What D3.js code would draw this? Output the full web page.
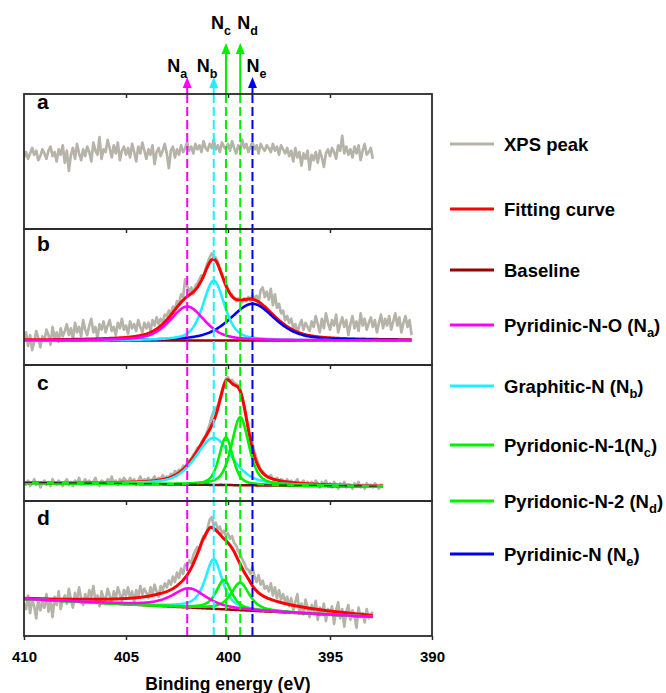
<!DOCTYPE html>
<html>
<head>
<meta charset="utf-8">
<script src="https://cdn.jsdelivr.net/npm/d3@7"></script>
<style>
  html, body { margin: 0; padding: 0; background: #fff; }
  svg { display: block; font-family: "Liberation Sans", Arial, Helvetica, sans-serif; font-weight: bold; }
</style>
</head>
<body>
<svg id="chart" width="666" height="693"></svg>
<script>
// ---------------- data ----------------
// Measured N 1s spectra, sampled every 0.1 eV starting at 410 eV (arbitrary intensity units per panel)
const xpsStart = 410;
const xpsStep = 0.1;

const xpsA = [
  53,57,52,56,60,55,58,51,54,59,
  56,52,58,61,54,57,50,59,55,62,
  49,58,43,55,60,52,63,56,51,59,
  54,61,57,50,64,58,55,68,52,59,
  57,66,60,53,62,56,64,51,58,61,
  55,60,53,63,57,50,61,56,64,58,
  52,59,55,62,48,57,60,54,58,63,
  56,45,58,61,53,59,55,62,57,60,
  64,58,61,56,63,59,62,57,65,60,
  58,63,60,66,59,62,57,64,61,59,
  63,58,65,60,56,62,59,66,60,63,
  57,61,64,59,62,56,63,60,58,62,
  60,57,63,58,61,55,62,59,56,60,
  54,58,50,60,53,57,47,56,52,58,
  44,55,51,57,49,58,53,46,56,59,
  54,60,57,52,62,58,69,56,61,55,
  59,53,61,56,62,51,58,63,55,57,
  60,52
];

const xpsB = [
  19,24,14,22,11,17,25,20,13,21,
  18,26,22,15,28,20,24,17,27,21,
  25,30,22,27,19,31,24,28,21,33,
  26,22,29,34,24,28,20,30,26,32,
  24,29,33,25,28,22,31,27,34,26,
  29,23,32,27,30,25,33,28,24,31,
  27,31,25,33,29,35,30,34,31,37,
  36,40,37,43,41,47,45,52,50,63,
  58,54,57,52,58,60,63,66,64,71,
  75,79,82,80,79,76,70,67,63,60,
  56,53,52,49,47,49,48,46,49,47,
  50,47,52,48,51,46,55,57,50,54,
  48,56,44,52,42,45,38,40,33,36,
  31,34,27,30,24,29,33,26,31,28,
  25,32,28,36,30,24,34,27,38,31,
  26,33,29,37,24,30,35,28,33,22,
  30,36,27,32,25,38,29,34,26,31,
  35,28,33,24,31,37,27,34,29,36,
  26,32,38,29,35,24,31,36,28,33,
  22
];

const xpsC = [
  14,12,15,11,13,16,12,14,10,13,
  15,12,14,11,16,13,12,15,13,11,
  14,16,12,14,11,15,13,17,12,14,
  16,13,15,12,14,17,13,11,15,14,
  13,16,14,18,13,15,12,16,14,17,
  15,13,17,14,16,12,15,18,14,16,
  15,17,14,16,18,15,17,16,19,16,
  18,17,20,19,22,21,23,22,26,25,
  28,30,31,34,36,39,40,43,46,48,
  52,56,62,66,68,70,75,81,86,90,
  91,88,89,87,86,85,82,76,70,62,
  53,47,43,36,31,27,23,22,19,18,
  17,19,16,15,17,14,16,15,13,16,
  13,15,12,14,16,11,13,15,12,14,
  12,14,11,15,13,10,14,12,15,11,
  13,10,14,12,9,13,11,14,10,12,
  12,9,13,11,14,10,12,9,13,11,
  12,10,13,11,9,12,11
];

const xpsD = [
  24,20,30,17,27,22,13,28,19,25,
  21,31,18,26,14,29,23,33,20,27,
  30,24,35,27,21,32,26,36,28,23,
  31,25,34,29,37,26,30,22,33,28,
  27,35,30,24,33,28,36,31,26,34,
  30,36,28,33,25,34,29,37,31,35,
  32,28,36,31,38,33,29,37,34,39,
  36,41,38,44,40,47,43,50,46,53,
  52,56,54,60,63,66,64,70,74,73,
  80,86,88,82,84,79,81,76,78,74,
  76,72,74,69,67,63,60,57,54,50,
  49,46,51,44,40,45,38,41,35,37,
  33,39,30,36,28,34,27,31,25,29,
  22,28,19,25,31,18,24,16,27,21,
  14,23,18,26,12,21,17,24,11,20,
  16,22,9,19,25,13,20,7,18,23,
  12,19,15,6,21,14,17,10,20,13,
  16,18
];

// Linear baselines: [energy, intensity] end points
const baselineB = [[410, 18], [391, 18]];
const baselineC = [[410, 13.3], [392.4, 10.5]];
const baselineD = [[410, 27.4], [392.9, 14.1]];

// Fitted components: centre (eV), height above baseline, FWHM (eV)
const peaksB = [
  { key: "Ne", center: 398.8, height: 27,   fwhm: 2.6 },
  { key: "Nb", center: 400.7, height: 44,   fwhm: 1.25 },
  { key: "Na", center: 402.0, height: 25,   fwhm: 2.0 }
];
const peaksC = [
  { key: "Nb", center: 400.7, height: 34.6, fwhm: 2.1 },
  { key: "Nc", center: 400.1, height: 35,   fwhm: 0.8 },
  { key: "Nd", center: 399.4, height: 50,   fwhm: 1.0 }
];
const peaksD = [
  { key: "Nb", center: 400.7, height: 36.7, fwhm: 1.0 },
  { key: "Nc", center: 400.2, height: 21.7, fwhm: 0.9 },
  { key: "Nd", center: 399.4, height: 20.3, fwhm: 1.06 },
  { key: "Na", center: 401.9, height: 14.2, fwhm: 2.0 }
];

// Fitting envelope of spectrum d
const fitEnergyD = [410,409,408,407,406,405,404.5,404,403.5,403,402.5,402,401.75,401.5,401.25,401,400.85,400.7,400.5,400.25,400,399.75,399.5,399.25,399,398.75,398.5,398,397.5,397,396,395,394,392.9];
const fitValueD  = [28.0,27.6,27.3,27.3,27.3,27.7,28.3,29.2,30.8,32.8,37.1,45.2,52.0,60.8,70.6,77.9,80.6,79.7,77.0,72.8,69.1,63.9,56.2,48.5,42.3,36.0,32.0,27.6,25.2,23.3,20.5,18.5,16.8,15.1];

// Nitrogen species positions (eV)
const species = [
  { key: "Na", energy: 402.0 },
  { key: "Nb", energy: 400.7 },
  { key: "Nc", energy: 400.1 },
  { key: "Nd", energy: 399.4 },
  { key: "Ne", energy: 398.8 }
];

const xTicks = [410, 405, 400, 395, 390];
const innerTicks = [405, 400, 395];

const legendItems = [
  { text: "XPS peak", color: "xps" },
  { text: "Fitting curve", color: "fit" },
  { text: "Baseline", color: "base" },
  { text: "Pyridinic-N-O (N", sub: "a", tail: ")", color: "Na" },
  { text: "Graphitic-N (N", sub: "b", tail: ")", color: "Nb" },
  { text: "Pyridonic-N-1(N", sub: "c", tail: ")", color: "Nc" },
  { text: "Pyridonic-N-2 (N", sub: "d", tail: ")", color: "Nd" },
  { text: "Pyridinic-N (N", sub: "e", tail: ")", color: "Ne" }
];

// ---------------- styling / layout ----------------
const colors = {
  xps: "#b6b4a8", fit: "#ff0000", base: "#990000",
  Na: "#ff00ff", Nb: "#22eeff", Nc: "#00f000", Nd: "#00f000", Ne: "#0000ee"
};
const drawOrder = ["Ne", "Nb", "Nc", "Nd", "Na"];
const panelTop = [94, 229, 365, 501];
const panelBottom = [229, 365, 501, 636];
const letterBaseline = [109, 251, 390, 525];
const legendY = [144, 209, 270, 325, 386, 445, 501, 554];
const markerLayout = {
  Na: { tip: 77, labelDx: -20, labelY: 72 },
  Nb: { tip: 77, labelDx: -17, labelY: 72 },
  Nc: { tip: 43, labelDx: -15, labelY: 28.5 },
  Nd: { tip: 43, labelDx: -3,  labelY: 28.5 },
  Ne: { tip: 77, labelDx: -6,  labelY: 72 }
};

const panels = [
  { letter: "a", xps: xpsA },
  { letter: "b", xps: xpsB, baseline: baselineB, peaks: peaksB, eta: 0.5 },
  { letter: "c", xps: xpsC, baseline: baselineC, peaks: peaksC, eta: 0.5, dashedBase: true },
  { letter: "d", xps: xpsD, baseline: baselineD, peaks: peaksD, eta: 0.7,
    fit: fitEnergyD.map((e, i) => [e, fitValueD[i]]) }
];

// ---------------- drawing ----------------
const svg = d3.select("#chart");
const x = d3.scaleLinear().domain([410, 390]).range([24, 432]);
const plotLeft = x(410), plotRight = x(390);

// pseudo-Voigt line shape
function peakValue(e, p, eta) {
  const r = (e - p.center) / p.fwhm;
  const q = 4 * r * r;
  return p.height * (eta / (1 + q) + (1 - eta) * Math.exp(-Math.LN2 * q));
}
function baselineValue(e, b) {
  const [[e0, v0], [e1, v1]] = b;
  return v0 + (v1 - v0) * (e - e0) / (e1 - e0);
}

const defs = svg.append("defs");

panels.forEach((p, k) => {
  const top = panelTop[k], bottom = panelBottom[k];
  const y = d3.scaleLinear().domain([0, 100]).range([bottom, top]);
  const line = d3.line().x(d => x(d[0])).y(d => y(d[1]));

  defs.append("clipPath").attr("id", "clip" + k)
    .append("rect").attr("x", plotLeft).attr("y", top)
    .attr("width", plotRight - plotLeft).attr("height", bottom - top);

  const g = svg.append("g").attr("clip-path", `url(#clip${k})`);

  const xpsPts = p.xps.map((v, i) => [xpsStart - i * xpsStep, v]);
  const eEnd = xpsStart - (p.xps.length - 1) * xpsStep;

  g.append("path").datum(xpsPts).attr("d", line)
    .attr("fill", "none").attr("stroke", colors.xps)
    .attr("stroke-width", 2.7).attr("stroke-linejoin", "round");

  if (!p.baseline) return;

  const n = Math.round((xpsStart - eEnd) / 0.05);
  const grid = d3.range(n + 1).map(i => xpsStart - i * 0.05);

  g.append("path").datum(grid.map(e => [e, baselineValue(e, p.baseline)]))
    .attr("d", line).attr("fill", "none").attr("stroke", colors.base).attr("stroke-width", 2.5);

  const fitPts = p.fit
    ? p.fit
    : grid.map(e => [e, baselineValue(e, p.baseline) + d3.sum(p.peaks, pk => peakValue(e, pk, p.eta))]);
  g.append("path").datum(fitPts)
    .attr("d", p.fit ? d3.line().x(d => x(d[0])).y(d => y(d[1])).curve(d3.curveMonotoneX) : line)
    .attr("fill", "none").attr("stroke", colors.fit).attr("stroke-width", 3)
    .attr("stroke-linejoin", "round");

  const sorted = p.peaks.slice().sort((a, b) => drawOrder.indexOf(a.key) - drawOrder.indexOf(b.key));
  sorted.forEach(pk => {
    g.append("path").datum(grid.map(e => [e, baselineValue(e, p.baseline) + peakValue(e, pk, p.eta)]))
      .attr("d", line).attr("fill", "none").attr("stroke", colors[pk.key])
      .attr("stroke-width", 2.6).attr("stroke-linejoin", "round");
  });

  if (p.dashedBase) {
    g.append("path").datum(grid.map(e => [e, baselineValue(e, p.baseline) + 0.4]))
      .attr("d", line).attr("fill", "none").attr("stroke", "#2a2a2a")
      .attr("stroke-width", 1.2).attr("stroke-dasharray", "8,7");
  }
});

// species marker lines (dashed through the panels, solid with arrow above)
species.forEach(s => {
  const xs = x(s.energy), L = markerLayout[s.key], c = colors[s.key];
  svg.append("line").attr("x1", xs).attr("x2", xs).attr("y1", panelBottom[3]).attr("y2", panelTop[0])
    .attr("stroke", c).attr("stroke-width", 2).attr("stroke-dasharray", "9,4");
  svg.append("line").attr("x1", xs).attr("x2", xs).attr("y1", panelTop[0]).attr("y2", L.tip + 8)
    .attr("stroke", c).attr("stroke-width", 2);
  svg.append("path")
    .attr("d", `M${xs},${L.tip} L${xs - 4.5},${L.tip + 11} L${xs + 4.5},${L.tip + 11} Z`)
    .attr("fill", c);
  const t = svg.append("text").attr("x", xs + L.labelDx).attr("y", L.labelY)
    .attr("font-size", 18).attr("fill", "#000");
  t.append("tspan").text("N");
  t.append("tspan").attr("font-size", 12.5).attr("dy", 6).text(s.key.slice(1));
});

// panel frames, inner top ticks, letters
panels.forEach((p, k) => {
  const top = panelTop[k], bottom = panelBottom[k];
  svg.append("rect").attr("x", plotLeft).attr("y", top)
    .attr("width", plotRight - plotLeft).attr("height", bottom - top)
    .attr("fill", "none").attr("stroke", "#2b2b2b").attr("stroke-width", 1.8);
  const ticks = svg.append("g").attr("transform", `translate(0,${top})`)
    .call(d3.axisBottom(x).tickValues(innerTicks).tickSize(4).tickFormat(""));
  ticks.select(".domain").remove();
  ticks.selectAll("line").attr("stroke", "#2b2b2b").attr("stroke-width", 1.5);
  svg.append("text").attr("x", 37).attr("y", letterBaseline[k])
    .attr("font-size", 21).attr("fill", "#000").text(p.letter);
});

// bottom axis
const axis = svg.append("g").attr("transform", `translate(0,${panelBottom[3]})`)
  .call(d3.axisBottom(x).tickValues(xTicks).tickSize(4).tickFormat(d3.format("d")));
axis.select(".domain").remove();
axis.selectAll("line").attr("stroke", "#2b2b2b").attr("stroke-width", 1.5);
axis.selectAll("text").attr("y", 26).attr("dy", 0)
  .attr("font-size", 15).attr("font-weight", "bold")
  .attr("font-family", "'Liberation Sans', Arial, sans-serif").attr("fill", "#000");

svg.append("text").attr("x", x(400)).attr("y", 690).attr("text-anchor", "middle")
  .attr("font-size", 17.5).attr("fill", "#000").text("Binding energy (eV)");

// legend
const legend = svg.append("g");
legendItems.forEach((item, i) => {
  const ly = legendY[i];
  legend.append("line").attr("x1", 450).attr("x2", 494).attr("y1", ly).attr("y2", ly)
    .attr("stroke", colors[item.color]).attr("stroke-width", 3);
  const t = legend.append("text").attr("x", 504).attr("y", ly + 6.5)
    .attr("font-size", 18.5).attr("fill", "#000");
  t.append("tspan").text(item.text);
  if (item.sub) {
    t.append("tspan").attr("font-size", 13).attr("dy", 5).text(item.sub);
    t.append("tspan").attr("dy", -5).text(item.tail);
  }
});
</script>
</body>
</html>
